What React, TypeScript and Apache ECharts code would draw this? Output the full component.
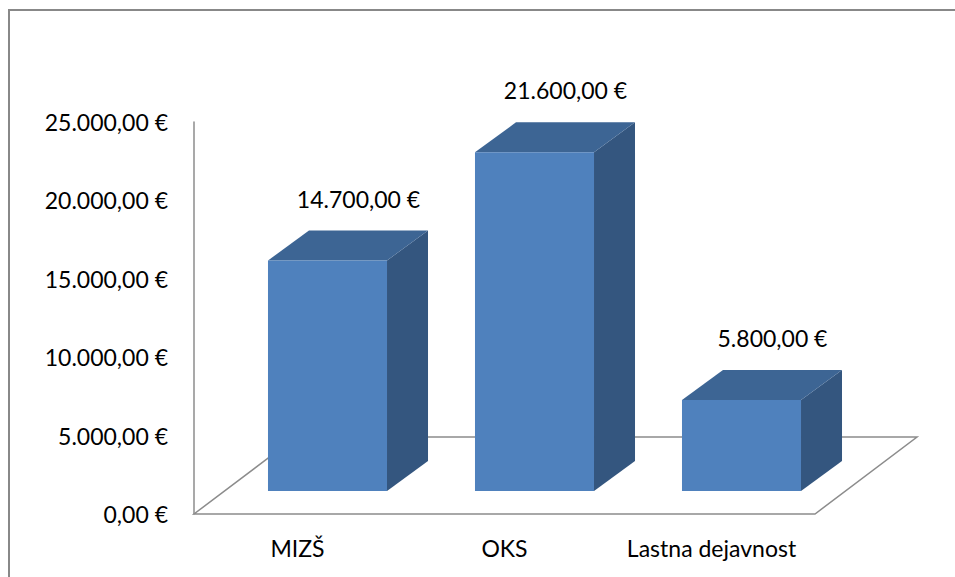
import React, { useEffect, useRef } from "react";
import * as echarts from "echarts";

const categories = ["MIZŠ", "OKS", "Lastna dejavnost"];
const values = [14700, 21600, 5800];
const axisMin = 0;
const axisMax = 25000;
const axisStep = 5000;

const fmt = (v: number) => {
  const [i, d] = Number(v).toFixed(2).split(".");
  return i.replace(/\B(?=(\d{3})+(?!\d))/g, ".") + "," + d + " €";
};

const FONT = "Lato, 'Open Sans', sans-serif";
const LINE = "#8c8c8c";

export default function App() {
  const ref = useRef<HTMLDivElement>(null);
  useEffect(() => {
    if (!ref.current) return;
    const chart = echarts.init(ref.current, undefined, { renderer: "svg" });
    const floorDX = 102, floorDY = 77;
    const offX = 30, offY = 23;
    const depX = 41, depY = 30;
    chart.setOption({
      animation: false,
      backgroundColor: "#ffffff",
      graphic: [
        {
          type: "rect",
          shape: { x: 9, y: 10, width: 1000, height: 620 },
          style: { fill: "none", stroke: "#888888", lineWidth: 2 },
          z: 0,
        },
      ],
      grid: { left: 194, top: 122, width: 621, height: 392 },
      xAxis: {
        type: "category",
        data: categories,
        axisLine: { show: false },
        axisTick: { show: false },
        axisLabel: {
          color: "#000",
          fontFamily: FONT,
          fontSize: 23,
          lineHeight: 23,
          margin: 22,
          interval: 0,
        },
      },
      yAxis: {
        type: "value",
        min: axisMin,
        max: axisMax,
        interval: axisStep,
        axisLine: { show: true, lineStyle: { color: LINE, width: 1.5 } },
        axisTick: { show: false },
        splitLine: { show: false },
        axisLabel: {
          color: "#000",
          fontFamily: FONT,
          fontSize: 23,
          margin: 26,
          padding: [6, 0, 0, 0],
          formatter: (v: number) => fmt(v),
        },
      },
      series: [
        {
          type: "custom",
          z: 1,
          silent: true,
          data: [[0, 0]],
          renderItem: (params: any) => {
            const cs = params.coordSys;
            const x0 = cs.x, x1 = cs.x + cs.width, yb = cs.y + cs.height;
            return {
              type: "polygon",
              shape: {
                points: [
                  [x0, yb],
                  [x1, yb],
                  [x1 + floorDX, yb - floorDY],
                  [x0 + floorDX, yb - floorDY],
                ],
              },
              style: { fill: "none", stroke: LINE, lineWidth: 1.5 },
            };
          },
        },
        {
          type: "custom",
          z: 2,
          data: values.map((v, i) => [i, v]),
          renderItem: (params: any, api: any) => {
            const idx = api.value(0);
            const val = api.value(1);
            const base = api.coord([idx, 0]);
            const top = api.coord([idx, val]);
            const band = api.size([1, 0])[0];
            const w = band * 0.575;
            const fx = base[0] + offX - w / 2;
            const fy0 = base[1] - offY;
            const fy1 = top[1] - offY;
            return {
              type: "group",
              children: [
                {
                  type: "polygon",
                  shape: {
                    points: [
                      [fx + w, fy1],
                      [fx + w + depX, fy1 - depY],
                      [fx + w + depX, fy0 - depY],
                      [fx + w, fy0],
                    ],
                  },
                  style: { fill: "#34567f" },
                },
                {
                  type: "polygon",
                  shape: {
                    points: [
                      [fx, fy1],
                      [fx + depX, fy1 - depY],
                      [fx + w + depX, fy1 - depY],
                      [fx + w, fy1],
                    ],
                  },
                  style: { fill: "#3d6594" },
                },
                {
                  type: "rect",
                  shape: { x: fx, y: fy1, width: w, height: fy0 - fy1 },
                  style: { fill: "#4f81bd" },
                },
                {
                  type: "text",
                  style: {
                    text: fmt(val),
                    x: base[0] + offX + 31,
                    y: fy1 - 62,
                    align: "center",
                    verticalAlign: "middle",
                    fill: "#000",
                    fontFamily: FONT,
                    fontSize: 23,
                  },
                },
              ],
            };
          },
        },
      ],
    });
    return () => chart.dispose();
  }, []);
  return (
    <div
      ref={ref}
      style={{ position: "fixed", left: 0, top: 0, width: 955, height: 577, background: "#fff" }}
    />
  );
}
